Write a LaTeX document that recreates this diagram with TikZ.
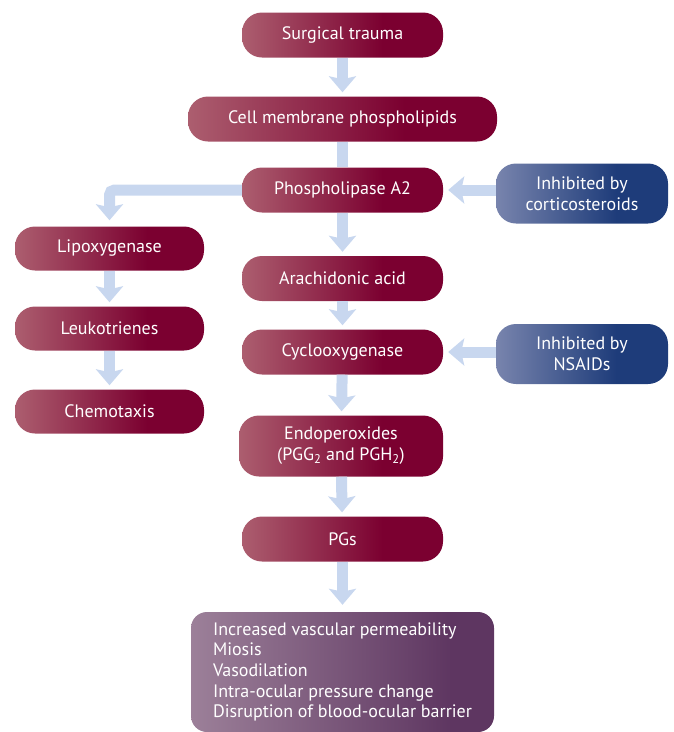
\documentclass[tikz,border=0pt]{standalone}
\usepackage{fontspec}
\setmainfont{PT Sans}
\usetikzlibrary{arrows.meta}
\definecolor{redL}{HTML}{AC5E6F}
\definecolor{redD}{HTML}{7B0030}
\definecolor{bluL}{HTML}{7884AD}
\definecolor{bluD}{HTML}{1E3C7A}
\definecolor{purL}{HTML}{9C8099}
\definecolor{purD}{HTML}{5E3661}
\definecolor{arrowc}{HTML}{C8D7EF}
\pgfdeclarehorizontalshading{redshade}{100bp}{color(0bp)=(redL); color(25bp)=(redL); color(60bp)=(redD); color(100bp)=(redD)}
\pgfdeclarehorizontalshading{blueshade}{100bp}{color(0bp)=(bluL); color(25bp)=(bluL); color(60bp)=(bluD); color(100bp)=(bluD)}
\pgfdeclarehorizontalshading{purpleshade}{100bp}{color(0bp)=(purL); color(25bp)=(purL); color(68bp)=(purD); color(100bp)=(purD)}
\begin{document}
\begin{tikzpicture}[x=1pt,y=-1pt,
  box/.style={rounded corners=20pt, text=white, inner sep=0pt, align=center,
    font=\fontsize{18}{21}\selectfont},
  redbox/.style={box, shading=redshade, minimum width=201pt, minimum height=45pt},
  sidebox/.style={box, shading=redshade, minimum width=189pt, minimum height=44pt},
  bluebox/.style={box, shading=blueshade, minimum width=172pt, minimum height=60pt},
  effbox/.style={rounded corners=16pt, text=white, shading=purpleshade,
    minimum width=303pt, minimum height=120pt, inner sep=0pt,
    align=left, font=\fontsize{18}{20.6}\selectfont},
  link/.style={draw=arrowc, line width=11pt},
  arr/.style={link, -{Stealth[width=27pt,length=16pt,inset=3pt]}, shorten >=4pt}
]
\useasboundingbox (0,0) rectangle (674,732);

\node[redbox] (st) at (342.5,35) {Surgical trauma};
\node[redbox, minimum width=309pt] (cm) at (342.5,119) {Cell membrane phospholipids};
\node[redbox] (pl) at (342.5,190) {Phospholipase A2};
\node[redbox] (aa) at (342.5,278.5) {Arachidonic acid};
\node[redbox] (cox) at (342.5,352) {Cyclooxygenase};
\node[redbox, minimum width=204pt, minimum height=61pt] (endo) at (341,446)
  {Endoperoxides\\(PGG\textsubscript{2} and PGH\textsubscript{2})};
\node[redbox] (pgs) at (342.5,539) {PGs};
\node[effbox] (eff) at (342.5,672) {Increased vascular permeability\\Miosis\\Vasodilation\\Intra-ocular pressure change\\Disruption of blood-ocular barrier};

\node[sidebox] (lip) at (109.5,248.5) {Lipoxygenase};
\node[sidebox] (leu) at (109.5,328.5) {Leukotrienes};
\node[sidebox] (che) at (109.5,411.5) {Chemotaxis};

\node[bluebox] (cort) at (582,193.5) {Inhibited by\\corticosteroids};
\node[bluebox] (nsa) at (582,354) {Inhibited by\\NSAIDs};

\draw[arr] (st) -- (cm);
\draw[link] (cm) -- (pl);
\draw[arr] (pl) -- (aa);
\draw[arr] (aa) -- (cox);
\draw[arr] (cox) -- (endo);
\draw[arr] (endo) -- (pgs);
\draw[arr, shorten >=7pt] (pgs) -- (eff);
\draw[arr, shorten >=6pt, rounded corners=5pt] (pl.west) -| (lip.north);
\draw[arr] (lip) -- (leu);
\draw[arr] (leu) -- (che);
\draw[arr, shorten >=5pt] (cort.west |- pl.east) -- (pl.east);
\draw[arr, shorten >=5pt] (nsa.west |- cox.east) -- (cox.east);
\end{tikzpicture}
\end{document}
